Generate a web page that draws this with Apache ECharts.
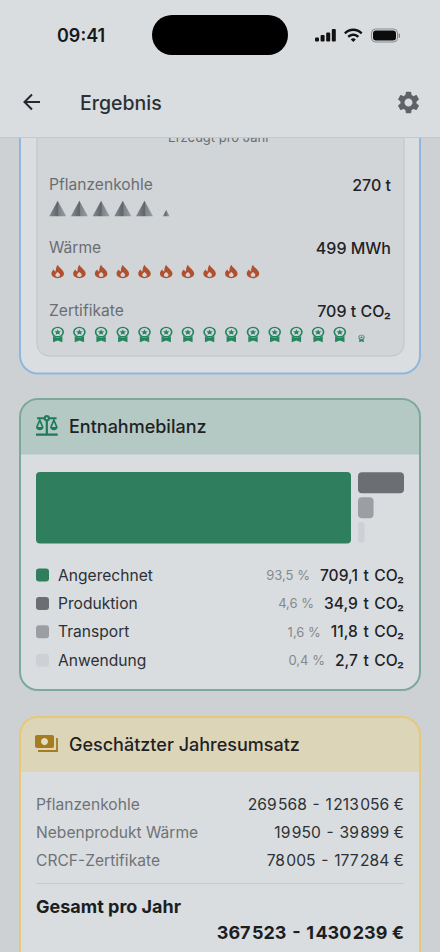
<!DOCTYPE html>
<html>
<head>
  <meta charset="UTF-8">
  <style>
    html, body { margin: 0; padding: 0; background: #cdd1d4; }
    #main { width: 440px; height: 952px; }
  </style>
</head>
<body>
  <div id="main"></div>
  <script src="https://cdn.jsdelivr.net/npm/echarts@6/dist/echarts.min.js"></script>
  <script>
    // Erzeugung, ein Symbol pro 50 Einheiten
    var outputRows = ['Pflanzenkohle', 'Wärme', 'Zertifikate'];
    var outputValues = ['270 t', '499 MWh', '709 t CO₂'];
    var charcoalIcons = [1, 1, 1, 1, 1, 0.4];
    var heatIcons = [1, 1, 1, 1, 1, 1, 1, 1, 1, 1];
    var certIcons = [1, 1, 1, 1, 1, 1, 1, 1, 1, 1, 1, 1, 1, 1, 0.48];

    // Entnahmebilanz
    var balanceNames = ['Angerechnet', 'Produktion', 'Transport', 'Anwendung'];
    var balanceTons = [709.1, 34.9, 11.8, 2.7];
    var balancePercent = [93.5, 4.6, 1.6, 0.4];
    var balanceColors = ['#2f7f5e', '#6b6f74', '#9b9fa4', '#cdd1d5'];

    // Jahresumsatz
    var revenueNames = ['Pflanzenkohle', 'Nebenprodukt Wärme', 'CRCF-Zertifikate'];
    var revenueLow = [269568, 19950, 78005];
    var revenueHigh = [1213056, 39899, 177284];
    var totalLow = 367523;
    var totalHigh = 1430239;

    var FONT = 'Inter, "Noto Sans", sans-serif';

    var flamePath = 'path://M12 1C13 6 20 9 20 15.5C20 20 16.5 23 12 23C7.5 23 4 20 4 15.5C4 12.5 5.5 10.5 7 9C7.5 11 8.5 12 9.5 12C9.5 8 10 4 12 1zM12 13C10.5 15 9 16 9 18a3 3 0 0 0 6 0C15 16 13.5 15 12 13z';
    var badgePath = 'path://M12 1a8 8 0 1 1 0 16a8 8 0 1 1 0-16zM12 3a6 6 0 1 0 0 12a6 6 0 1 0 0-12zM12 5l1.2 2.7 3 .3-2.2 2 .6 2.9L12 11.4l-2.6 1.5.6-2.9-2.2-2 3-.3zM6 15c3 3.5 9 3.5 12 0V24L12 21.5 6 24z';
    var pyramidPath = 'path://M10 0L20 18H0z';
    var gearPath = 'M19.14 12.94c.04-.3.06-.61.06-.94 0-.32-.02-.64-.07-.94l2.03-1.58a.49.49 0 0 0 .12-.61l-1.92-3.32a.488.488 0 0 0-.59-.22l-2.39.96c-.5-.38-1.03-.7-1.62-.94l-.36-2.54a.484.484 0 0 0-.48-.41h-3.84c-.24 0-.43.17-.47.41l-.36 2.54c-.59.24-1.13.57-1.62.94l-2.39-.96c-.22-.08-.47 0-.59.22L2.74 8.87c-.12.21-.08.47.12.61l2.03 1.58c-.05.3-.09.63-.09.94s.02.64.07.94l-2.03 1.58a.49.49 0 0 0-.12.61l1.92 3.32c.12.22.37.29.59.22l2.39-.96c.5.38 1.03.7 1.62.94l.36 2.54c.05.24.24.41.48.41h3.84c.24 0 .44-.17.47-.41l.36-2.54c.59-.24 1.13-.56 1.62-.94l2.39.96c.22.08.47 0 .59-.22l1.92-3.32c.12-.22.07-.47-.12-.61l-2.01-1.58zM12 15.6c-1.98 0-3.6-1.62-3.6-3.6s1.62-3.6 3.6-3.6 3.6 1.62 3.6 3.6-1.62 3.6-3.6 3.6z';
    var wifiPath = 'M1 9l2 2c4.97-4.97 13.03-4.97 18 0l2-2C16.93 2.93 7.08 2.93 1 9zm8 8l3 3 3-3c-1.65-1.66-4.34-1.66-6 0zm-4-4l2 2c2.76-2.76 7.24-2.76 10 0l2-2C15.14 9.14 8.87 9.14 5 13z';
    var scalesPath = 'M13 7.83c.85-.3 1.53-.98 1.83-1.83H18l-3 7c0 1.66 1.57 3 3.5 3s3.5-1.34 3.5-3l-3-7h2V4h-6.17C14.42 2.83 13.31 2 12 2S9.58 2.83 9.17 4L3 4v2h2l-3 7c0 1.66 1.57 3 3.5 3S9 14.66 9 13L6 6h3.17c.3.85.98 1.53 1.83 1.83V19H2v2h20v-2h-9V7.83zM20.37 13h-3.74l1.87-4.36L20.37 13zM7.37 13H3.63L5.5 8.64 7.37 13zM12 6c-.55 0-1-.45-1-1s.45-1 1-1 1 .45 1 1-.45 1-1 1z';

    // das graphic-Element kennt keinen Pfadtyp, darum registrieren
    echarts.graphic.registerShape('gearIcon', echarts.graphic.extendPath(gearPath));
    echarts.graphic.registerShape('wifiIcon', echarts.graphic.extendPath(wifiPath));
    echarts.graphic.registerShape('scalesIcon', echarts.graphic.extendPath(scalesPath));

    function txt(x, y, text, font, fill, align) {
      return {
        type: 'text',
        style: { x: x, y: y, text: text, font: font + ' ' + FONT, fill: fill, textAlign: align || 'left', textVerticalAlign: 'middle' }
      };
    }
    function box(x, y, w, h, r, fill, stroke, lineWidth) {
      return {
        type: 'rect',
        shape: { x: x, y: y, width: w, height: h, r: r },
        style: { fill: fill || 'none', stroke: stroke || 'none', lineWidth: lineWidth || 0 }
      };
    }
    function icon(type, x, y, scaleX, scaleY, fill) {
      return { type: type, x: x, y: y, scaleX: scaleX, scaleY: scaleY, style: { fill: fill } };
    }
    function line(points, color, width) {
      return { type: 'polyline', shape: { points: points }, style: { fill: 'none', stroke: color, lineWidth: width } };
    }
    function german(n) {
      return String(n).replace(/\B(?=(\d{3})+$)/g, '\u200a');
    }
    function range(low, high) {
      return german(low) + '\u200a - \u200a' + german(high) + ' €';
    }
    function comma(n) {
      return n.toFixed(1).replace('.', ',');
    }

    var page = [];

    // Karte Ergebnis (oben vom Kopf abgeschnitten)
    page.push(box(20, 100, 400, 273.5, 18, '#dadee1', '#8fb7de', 2));
    page.push(box(37, 100, 367, 256, 12, '#d1d5d8', '#bfc3c7', 1));
    page.push(txt(219, 137, 'Erzeugt pro Jahr', '400 13px', '#6a6e73', 'center'));
    outputRows.forEach(function (name, i) {
      var y = 184.5 + i * 63;
      page.push(txt(49, y, name, '400 15.6px', '#6a6e73'));
      page.push(txt(391, y, outputValues[i], '500 16px', '#1f2226', 'right'));
    });

    // Karte Entnahmebilanz
    page.push(box(20, 399, 400, 291, 18, '#d9dde0'));
    page.push(box(20, 399, 400, 55.5, [18, 18, 0, 0], '#b4c9c3'));
    page.push(box(20, 399, 400, 291, 18, null, '#7daa98', 2));
    page.push(icon('scalesIcon', 33.8, 412.8, 1.085, 1.09, '#1f7a5a'));
    page.push(txt(69, 426, 'Entnahmebilanz', '500 18px', '#1e2226'));
    balanceNames.forEach(function (name, i) {
      var y = 575 + i * 28.4;
      page.push(box(36, y - 6.5, 13, 13, 3, balanceColors[i]));
      page.push(txt(58, y, name, '400 15.6px', '#2d3135'));
      page.push({
        type: 'text',
        style: {
          x: 404, y: y,
          text: '{p|' + comma(balancePercent[i]) + ' %}{v|' + comma(balanceTons[i]) + '\u200a t \u200aCO₂}',
          textAlign: 'right',
          textVerticalAlign: 'middle',
          rich: {
            p: { font: '400 13px ' + FONT, fill: '#85898d', padding: [0, 10, 0, 0] },
            v: { font: '500 15.6px ' + FONT, fill: '#1f2226' }
          }
        }
      });
    });

    // Karte Jahresumsatz
    page.push(box(20, 717, 400, 260, 18, '#d9dde0'));
    page.push(box(20, 717, 400, 55, [18, 18, 0, 0], '#ddd5b8'));
    page.push(box(20, 717, 400, 260, 18, null, '#e6c878', 2));
    page.push(line([[57, 738], [57, 751], [38, 751]], '#a67c20', 1.8));
    page.push(box(35, 735, 19, 13, 2, '#a67c20'));
    page.push({ type: 'circle', shape: { cx: 44.5, cy: 741.5, r: 3.5 }, style: { fill: '#e3dcc0' } });
    page.push(txt(69, 744, 'Geschätzter Jahresumsatz', '500 18px', '#1e2226'));
    revenueNames.forEach(function (name, i) {
      var y = 804 + i * 28.3;
      page.push(txt(36, y, name, '400 15.6px', '#6f7378'));
      page.push(txt(404, y, range(revenueLow[i], revenueHigh[i]), '400 15.6px', '#2d3135', 'right'));
    });
    page.push(line([[36, 883.5], [404, 883.5]], '#c6cacd', 1));
    page.push(txt(36, 906, 'Gesamt pro Jahr', '700 18px', '#1b1e22'));
    page.push(txt(404, 932, range(totalLow, totalHigh), '700 18px', '#1b1e22', 'right'));

    // Kopf und Statusleiste liegen oben drauf
    page.push(box(0, 0, 440, 137, 0, '#d9dde0'));
    page.push(line([[0, 137.5], [440, 137.5]], '#c4c8cc', 1));
    page.push(txt(57, 35.5, '09:41', '600 18px', '#17191c'));
    page.push(box(152, 15, 136, 40, 20, '#000'));
    [4, 6.5, 9, 12.5].forEach(function (h, i) {
      page.push(box(315 + i * 5.6, 41.5 - h, 4, h, 1, '#111'));
    });
    page.push(icon('wifiIcon', 343.2, 24.7, 0.84, 0.865, '#111'));
    page.push(box(371.5, 29, 26, 13, 4, null, '#85888c', 1));
    page.push(box(373, 30.5, 23, 10, 3, '#0c0c0c'));
    page.push(box(398.6, 33.5, 1.4, 4.5, 1, '#85888c'));
    page.push(line([[40, 102], [24, 102]], '#25282c', 2));
    page.push(line([[32, 94.5], [24.5, 102], [32, 109.5]], '#25282c', 2));
    page.push(txt(80, 102.5, 'Ergebnis', '500 19.5px', '#2b2f33'));
    page.push(icon('gearIcon', 395.1, 89.1, 1.117, 1.117, '#5f6368'));

    function iconSeries(rowIndex, scales, path, w, h, color) {
      return {
        type: 'scatter',
        xAxisIndex: 2,
        yAxisIndex: 2,
        silent: true,
        symbol: path,
        symbolSize: function (val) {
          return [w * val[2], h * val[2]];
        },
        // kleine Restsymbole stehen auf derselben Grundlinie
        symbolOffset: function (val) {
          return [0, (1 - val[2]) * h / 2];
        },
        itemStyle: { color: color, opacity: 1 },
        data: scales.map(function (s, i) {
          return [i, outputRows[rowIndex], s];
        })
      };
    }

    var chart = echarts.init(document.getElementById('main'), null, { renderer: 'svg' });
    chart.setOption({
      animation: false,
      backgroundColor: '#cdd1d4',
      graphic: { elements: page },
      grid: [
        { left: 36, top: 472, width: 315, height: 71.5 },
        { left: 358, top: 470.3, width: 46, height: 74.7 },
        { left: 57.7, top: 208.4, width: 303.8, height: 126 }
      ],
      xAxis: [
        { gridIndex: 0, type: 'value', min: 0, max: balanceTons[0], show: false },
        { gridIndex: 1, type: 'value', min: 0, max: balanceTons[1], show: false },
        { gridIndex: 2, type: 'value', min: 0, max: 14, show: false }
      ],
      yAxis: [
        { gridIndex: 0, type: 'category', data: balanceNames.slice(0, 1), show: false },
        { gridIndex: 1, type: 'category', data: balanceNames.slice(1), inverse: true, show: false },
        { gridIndex: 2, type: 'category', data: outputRows, inverse: true, boundaryGap: false, show: false }
      ],
      series: [
        {
          type: 'bar',
          xAxisIndex: 0,
          yAxisIndex: 0,
          silent: true,
          barWidth: '100%',
          itemStyle: { borderRadius: 4 },
          data: [{ value: balanceTons[0], itemStyle: { color: balanceColors[0] } }]
        },
        {
          type: 'bar',
          xAxisIndex: 1,
          yAxisIndex: 1,
          silent: true,
          barWidth: 21,
          barMinHeight: 6.5,
          itemStyle: { borderRadius: 4 },
          data: balanceTons.slice(1).map(function (v, i) {
            return { value: v, itemStyle: { color: balanceColors[i + 1] } };
          })
        },
        iconSeries(0, charcoalIcons, pyramidPath, 17, 15.5, {
          type: 'linear', x: 0, y: 0, x2: 1, y2: 0,
          colorStops: [
            { offset: 0, color: '#868b92' },
            { offset: 0.5, color: '#5f646b' },
            { offset: 0.56, color: '#7d8289' },
            { offset: 1, color: '#9a9ea3' }
          ]
        }),
        iconSeries(1, heatIcons, flamePath, 12.5, 13.5, '#b1502f'),
        iconSeries(2, certIcons, badgePath, 12.5, 15.5, '#24855f')
      ]
    });
  </script>
</body>
</html>
